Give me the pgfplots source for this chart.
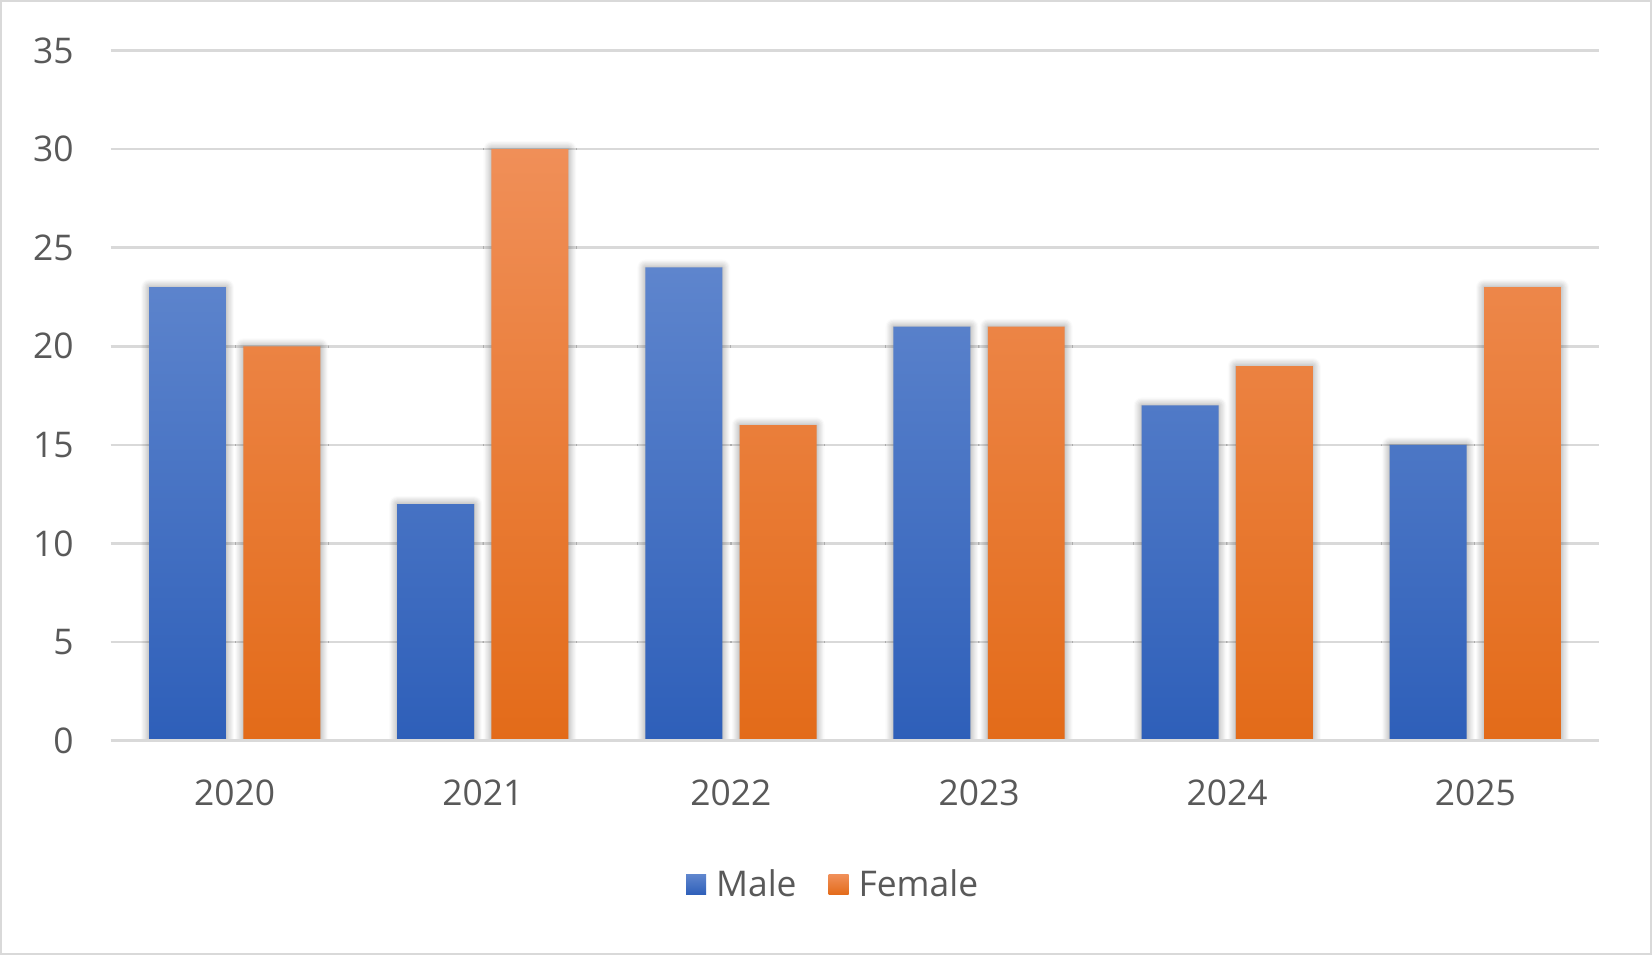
\documentclass[border=0pt]{standalone}
\usepackage{fontspec}
\setmainfont{Open Sans}
\usepackage{pgfplots}
\pgfplotsset{compat=1.18}
\usetikzlibrary{shadows.blur}
\definecolor{txt}{HTML}{595959}
\definecolor{framec}{HTML}{D9D9D9}
\definecolor{gridc}{HTML}{D9D9D9}
\definecolor{mtop}{HTML}{5E85CD}
\definecolor{mmid}{HTML}{3F71CC}
\definecolor{mbot}{HTML}{2E5FB9}
\definecolor{ftop}{HTML}{F08F58}
\definecolor{fmid}{HTML}{F47E2B}
\definecolor{fbot}{HTML}{E36B19}
\tikzset{
  malebar/.style={draw=none, top color=mtop, middle color=mmid, bottom color=mbot},
  femalebar/.style={draw=none, top color=ftop, middle color=fmid, bottom color=fbot},
  barshadow/.style={blur shadow={shadow xshift=0pt, shadow yshift=0pt, shadow blur radius=4pt, shadow blur steps=8, shadow opacity=45}},
}
\begin{document}
\begin{tikzpicture}
\path[use as bounding box] (-55.3pt,-107.15pt) rectangle (770.7pt,370.3pt);
\draw[color=framec, line width=1pt] (-54.8pt,-106.65pt) rectangle (770.2pt,369.8pt);
\begin{axis}[
  at={(0,0)}, anchor=south west,
  width=744.4pt, height=345pt, scale only axis,
  xmin=-0.5, xmax=5.5, ymin=0, ymax=35,
  ytick={0,5,...,35},
  xtick={0,1,2,3,4,5},
  xticklabels={2020,2021,2022,2023,2024,2025},
  axis line style={draw=none},
  major tick length=0pt,
  ymajorgrids,
  grid style={color=gridc, line width=1.3pt},
  /pgf/number format/assume math mode=true,
  tick label style={font=\fontsize{17.7}{22}\selectfont, text=txt},
  yticklabel style={xshift=-15pt},
  xticklabel style={yshift=-16pt},
  bar width=0.31,
  legend style={draw=none, at={(0.486,-0.209)}, anchor=center,
    legend columns=-1, font=\fontsize{17.7}{22}\selectfont, text=txt,
    /tikz/every odd column/.append style={column sep=3pt},
    /tikz/every even column/.append style={column sep=14pt}},
  legend cell align=left,
]
\addplot[ybar, bar shift=-0.19, malebar, barshadow, forget plot]
  coordinates {(0,23) (1,12) (2,24) (3,21) (4,17) (5,15)};
\addplot[ybar, bar shift=0.19, femalebar, barshadow, forget plot]
  coordinates {(0,20) (1,30) (2,16) (3,21) (4,19) (5,23)};
\addlegendimage{legend image code/.code={\path[malebar] (0pt,-5pt) rectangle (10pt,5pt);}}
\addlegendentry{Male}
\addlegendimage{legend image code/.code={\path[femalebar] (0pt,-5pt) rectangle (10pt,5pt);}}
\addlegendentry{Female}
\draw[gridc, line width=2pt] (axis cs:-0.5,0) -- (axis cs:5.5,0);
\end{axis}
\end{tikzpicture}
\end{document}
